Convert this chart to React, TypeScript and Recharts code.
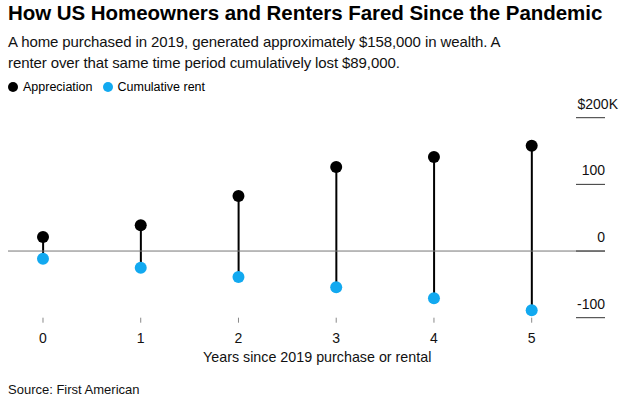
import React from 'react';
import { ComposedChart, Bar, Line, XAxis, YAxis, ReferenceLine } from 'recharts';

const years = [0, 1, 2, 3, 4, 5];
const appreciation = [21, 38.5, 82.5, 126, 141, 158];
const cumulativeRent = [-11.5, -25, -39, -54.5, -71, -89];
const yTicks = [-100, 0, 100, 200];
const yTickLabels = ['-100', '0', '100', '$200K'];

const data = years.map((year, i) => ({
  year,
  appreciation: appreciation[i],
  rent: cumulativeRent[i],
  stem: [cumulativeRent[i], appreciation[i]],
}));

const FONT = "'Liberation Sans', Arial, Helvetica, sans-serif";
const BLUE = '#12a9f0';

const RightTick = (props: any) => {
  const { x, y, payload } = props;
  const idx = yTicks.indexOf(payload.value);
  const label = yTickLabels[idx];
  const isTop = idx === yTicks.length - 1;
  return (
    <g>
      <line x1={x - 29} x2={x} y1={y} y2={y} stroke="#333" strokeWidth={1} />
      <text
        x={isTop ? x + 13 : x}
        y={y - 9}
        textAnchor="end"
        fontSize={14}
        fontFamily={FONT}
        fill="#111"
      >
        {label}
      </text>
    </g>
  );
};

export default function App() {
  return (
    <div style={{ position: 'absolute', left: 0, top: 0, width: 624, height: 406, background: '#fff', fontFamily: FONT, color: '#000' }}>
      <div style={{ position: 'absolute', left: 8, top: 1, fontSize: 20.5, lineHeight: '24px', fontWeight: 'bold', whiteSpace: 'nowrap', letterSpacing: -0.05 }}>
        How US Homeowners and Renters Fared Since the Pandemic
      </div>
      <div style={{ position: 'absolute', left: 8, top: 30.8, fontSize: 15, lineHeight: '21px', whiteSpace: 'nowrap', color: '#111', letterSpacing: -0.1 }}>
        A home purchased in 2019, generated approximately $158,000 in wealth. A
        <br />
        renter over that same time period cumulatively lost $89,000.
      </div>
      <div style={{ position: 'absolute', left: 8, top: 78, fontSize: 12.5, lineHeight: '18px', whiteSpace: 'nowrap', display: 'flex', alignItems: 'center' }}>
        <span style={{ display: 'inline-block', width: 10, height: 10, borderRadius: '50%', background: '#000', marginRight: 5 }} />
        <span style={{ marginRight: 10 }}>Appreciation</span>
        <span style={{ display: 'inline-block', width: 10, height: 10, borderRadius: '50%', background: BLUE, marginRight: 5 }} />
        <span>Cumulative rent</span>
      </div>

      <div style={{ position: 'absolute', left: 0, top: 90 }}>
        <ComposedChart
          width={624}
          height={280}
          data={data}
          margin={{ top: 27.7, right: 18, bottom: 22.3, left: 8 }}
        >
          <XAxis
            dataKey="year"
            type="number"
            domain={[-0.358, 5.75]}
            ticks={years}
            axisLine={false}
            tickLine={{ stroke: '#888' }}
            tickSize={5}
            tickMargin={10}
            height={30}
            tick={{ fontSize: 14, fontFamily: FONT, fill: '#111' }}
            allowDataOverflow
          />
          <YAxis
            orientation="right"
            type="number"
            domain={[-100, 200]}
            ticks={yTicks}
            axisLine={false}
            tickLine={false}
            tickSize={0}
            tickMargin={0}
            width={1}
            tick={<RightTick />}
            allowDataOverflow
          />
          <ReferenceLine y={0} stroke="#777" strokeWidth={1} />
          <Bar dataKey="stem" fill="#000" barSize={2} isAnimationActive={false} />
          <Line
            dataKey="appreciation"
            stroke="none"
            dot={{ r: 6, fill: '#000', stroke: 'none' }}
            activeDot={false}
            isAnimationActive={false}
          />
          <Line
            dataKey="rent"
            stroke="none"
            dot={{ r: 6, fill: BLUE, stroke: 'none' }}
            activeDot={false}
            isAnimationActive={false}
          />
        </ComposedChart>
      </div>

      <div style={{ position: 'absolute', left: 203, top: 348, fontSize: 14.3, lineHeight: '18px', whiteSpace: 'nowrap', color: '#111' }}>
        Years since 2019 purchase or rental
      </div>
      <div style={{ position: 'absolute', left: 8, top: 382, fontSize: 13, lineHeight: '16px', whiteSpace: 'nowrap', color: '#111' }}>
        Source: First American
      </div>
    </div>
  );
}
